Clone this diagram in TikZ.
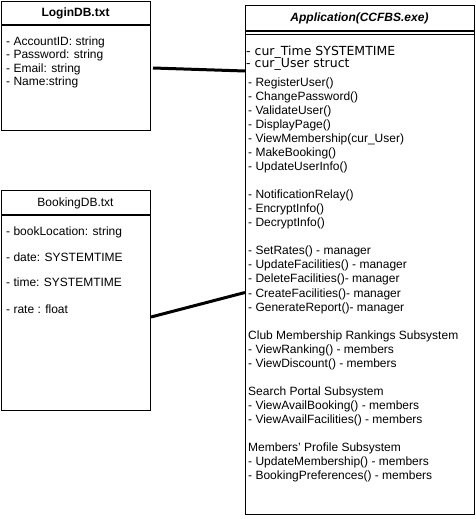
\documentclass[tikz,border=0pt]{standalone}
\usepackage{fontspec}
\setmainfont{Liberation Sans}
\newfontfamily\attrfont{DejaVu Sans}
\usetikzlibrary{calc}
\begin{document}
\begin{tikzpicture}[x=1pt,y=-1pt,
  box/.style={draw, line width=1.1pt, anchor=north west, inner sep=0pt},
  sep/.style={line width=1.1pt},
  txt/.style={anchor=base west, inner sep=0pt, font=\fontsize{12}{14}\selectfont},
  attr/.style={anchor=base west, inner sep=0pt, font=\attrfont\fontsize{12.5}{14}\selectfont},
  head/.style={inner sep=0pt, font=\fontsize{12}{14}\selectfont},
  link/.style={line width=3pt}]
\useasboundingbox (0,0) rectangle (476,519);
% boxes
\node[box, minimum width=149pt, minimum height=129pt] (login) at (1,1) {};
\node[box, minimum width=149pt, minimum height=220pt] (booking) at (1,190) {};
\node[box, minimum width=229pt, minimum height=509pt] (app) at (245,5) {};
% header separators
\draw[sep] (login.west |- 0,25) -- (login.east |- 0,25);
\draw[sep] (booking.west |- 0,215) -- (booking.east |- 0,215);
\draw[sep] (app.west |- 0,31) -- (app.east |- 0,31);
\draw[sep] (app.west |- 0,34.3) -- (app.east |- 0,34.3);
% headers
\node[head, font=\fontsize{12}{14}\selectfont\bfseries] (loginhead) at (75.5,13.3) {LoginDB.txt};
\node[head] (bookhead) at (75.5,203) {BookingDB.txt};
\node[head, font=\fontsize{12}{14}\selectfont\bfseries\itshape] (apphead) at (359.5,18.3) {Application(CCFBS.exe)};
% login fields
\foreach \yy/\t [count=\i] in {41.7/- AccountID: string, 54.2/- Password: string, 67.7/- Email: string, 81/- Name:string}
  \node[txt] (lf\i) at (6,\yy+4.3) {\t};
% booking fields
\foreach \yy/\t [count=\i] in {231/- bookLocation: string, 256.7/- date: SYSTEMTIME, 281.7/- time: SYSTEMTIME, 309.5/- rate : float}
  \node[txt] (bf\i) at (6,\yy+4.3) {\t};
% app attributes
\node[attr] (aa1) at (246,51.3+4.5) {- cur\_Time SYSTEMTIME};
\node[attr] (aa2) at (246,62.8+4.5) {- cur\_User struct};
% app operations
\foreach \k/\t in {0/- RegisterUser(), 1/- ChangePassword(), 2/- ValidateUser(), 3/- DisplayPage(),
  4/- ViewMembership(cur\_User), 5/- MakeBooking(), 6/- UpdateUserInfo(),
  8/- NotificationRelay(), 9/- EncryptInfo(), 10/- DecryptInfo(),
  12/- SetRates() - manager, 13/- UpdateFacilities() - manager, 14/- DeleteFacilities()- manager,
  15/- CreateFacilities()- manager, 16/- GenerateReport()- manager,
  18/Club Membership Rankings Subsystem, 19/- ViewRanking() - members, 20/- ViewDiscount() - members,
  22/Search Portal Subsystem, 23/- ViewAvailBooking() - members, 24/- ViewAvailFacilities() - members,
  26/Members' Profile Subsystem, 27/- UpdateMembership() - members, 28/- BookingPreferences() - members}
  \node[txt] (op\k) at (248,81.7+14.07*\k+4.3) {\t};
% connectors
\coordinate (c1s) at (153,68);
\coordinate (c1e) at (245,71);
\coordinate (c2s) at (151,317);
\coordinate (c2e) at (245,292.5);
\draw[link] (c1s) -- (c1e);
\draw[link] (c2s) -- (c2e);
\end{tikzpicture}
\end{document}
